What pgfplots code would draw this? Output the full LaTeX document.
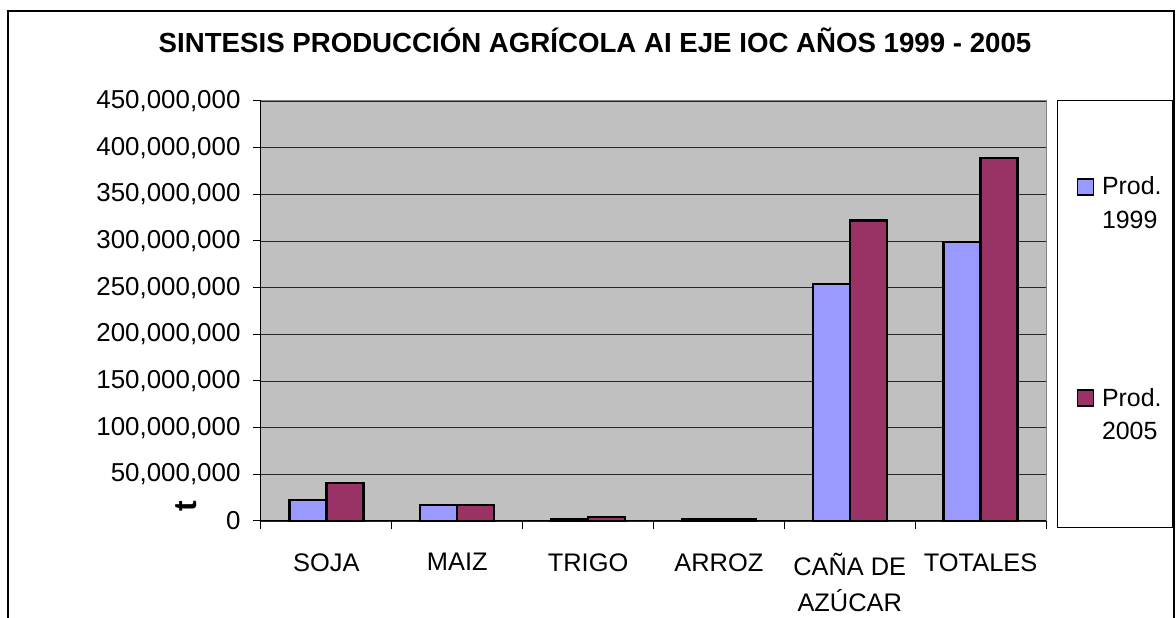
\documentclass[border=0pt]{standalone}
\usepackage{fontspec}
\setmainfont{Liberation Sans}
\usepackage{pgfplots}
\pgfplotsset{compat=1.18}
\usetikzlibrary{calc}
\definecolor{cA}{HTML}{9999FF}
\definecolor{cB}{HTML}{993366}
\definecolor{plotbg}{HTML}{C0C0C0}
\begin{document}
\begin{tikzpicture}[x=1bp,y=1bp]
\begin{axis}[
  scale only axis, width=785bp, height=420bp,
  xmin=-0.5, xmax=5.5, ymin=0, ymax=450000000,
  clip=false,
  ybar=0pt, bar width=37bp,
  axis background/.style={fill=plotbg, draw=gray, line width=1bp},
  axis x line*=bottom, axis y line*=left,
  axis line style={-, black, line width=1bp},
  ytick={0,50000000,100000000,150000000,200000000,250000000,300000000,350000000,400000000,450000000},
  ymajorgrids, major grid style={black!85, line width=0.8bp},
  tick align=outside, major tick length=8bp, tick style={black, line width=1bp},
  scaled y ticks=false,
  yticklabel style={font=\fontsize{26}{30}\selectfont, xshift=-9bp,
    /pgf/number format/fixed, /pgf/number format/precision=0,
    /pgf/number format/1000 sep={,}, /pgf/number format/assume math mode=true},
  xtick={-0.5,0.5,1.5,2.5,3.5,4.5,5.5}, xticklabels={},
  extra x ticks={0,1,2,3,4,5},
  extra x tick labels={SOJA,MAIZ,TRIGO,ARROZ,{CAÑA DE\\AZÚCAR},TOTALES},
  extra x tick style={major tick length=0pt, grid=none,
    xticklabel style={align=center, font=\fontsize{25.5}{36}\selectfont, yshift=-29bp}},
  title={SINTESIS PRODUCCIÓN AGRÍCOLA AI EJE IOC AÑOS 1999 - 2005},
  title style={at={(rel axis cs:0.4255,1.1024)}, anchor=base, font=\fontsize{27.75}{33}\selectfont\bfseries},
  ylabel={t},
  ylabel style={at={(rel axis cs:-0.0955,0.0357)}, anchor=center, font=\fontsize{32}{36}\selectfont\bfseries},
  legend style={at={(rel axis cs:1.014,1.0)}, anchor=north west, draw=none, fill=none,
    inner xsep=8bp, inner ysep=70bp, row sep=186bp,
    font=\fontsize{25}{34}\selectfont,
    nodes={anchor=base west, inner xsep=4bp, inner ysep=0bp}},
  legend image code/.code={\path (0bp,0bp); \draw[#1, line width=1.4bp] (11bp,0bp) rectangle (27bp,16bp);},
]
\draw[line width=1bp, fill=white] (rel axis cs:1.014,1) rectangle (rel axis cs:1.1605,-0.0143);
\addplot[fill=cA, draw=black, line width=2.2bp] coordinates {(0,22500000) (1,17500000) (2,1500000) (3,1500000) (4,254000000) (5,298500000)};
\addplot[fill=cB, draw=black, line width=2.2bp] coordinates {(0,41000000) (1,17500000) (2,4000000) (3,1500000) (4,322000000) (5,389000000)};
\legend{{\begin{tabular}[t]{@{}l@{}}\hspace{4bp}Prod.\\\hspace{4bp}1999\end{tabular}},{\begin{tabular}[t]{@{}l@{}}\hspace{4bp}Prod.\\\hspace{4bp}2005\end{tabular}}}
\coordinate (SW) at (rel axis cs:0,0);
\end{axis}
\pgfresetboundingbox
\path[use as bounding box] ($(SW)+(-261,-97)$) rectangle ($(SW)+(915,521)$);
\draw[line width=1.6bp] ($(SW)+(-253,-110)$) -- ($(SW)+(-253,510)$) -- ($(SW)+(913,510)$) -- ($(SW)+(913,-110)$);
\end{tikzpicture}
\end{document}
